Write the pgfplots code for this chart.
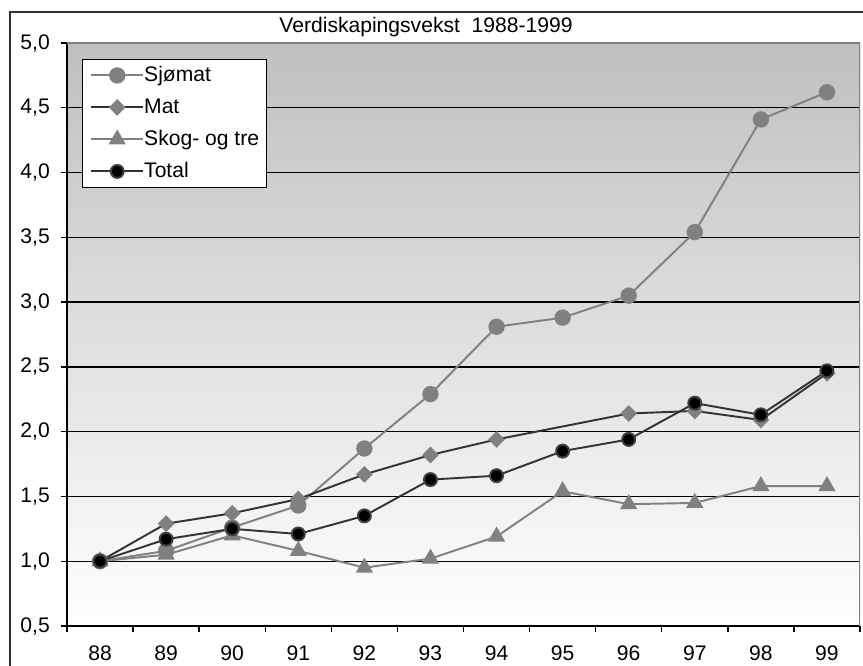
\documentclass[border=0pt]{standalone}
\usepackage{fontspec}
\setmainfont{Liberation Sans}
\usepackage{pgfplots}
\pgfplotsset{compat=1.18}
\definecolor{lgray}{HTML}{808080}
\definecolor{dgray}{HTML}{333333}

\begin{document}
\begin{tikzpicture}[font=\fontsize{12}{14}\selectfont]
\useasboundingbox (0,0) rectangle (17.26cm,13.32cm);
% chart frame
\draw[black!80,line width=0.035cm] (0.2cm,-0.2cm) -- (0.2cm,13.08cm) -- (17.5cm,13.08cm);
\node at (8.52cm,12.78cm) {Verdiskapingsvekst\ \ 1988-1999};
\begin{axis}[
  at={(1.34cm,0.8cm)}, anchor=south west,
  scale only axis, width=15.86cm, height=11.66cm,
  xmin=-0.5, xmax=11.5, ymin=0.5, ymax=5,
  axis x line*=bottom, axis y line*=left,
  axis line style={black,line width=0.8pt,-},
  axis background/.style={top color=black!25,bottom color=white},
  xtick={0,...,11},
  xticklabels={88,89,90,91,92,93,94,95,96,97,98,99},
  minor xtick={-0.5,0.5,...,11.5},
  ytick={0.5,1,...,5},
  tick align=outside,
  major tick length=0.12cm, minor tick length=0.12cm,
  major x tick style={draw=none},
  tick style={black,line width=0.8pt},
  ymajorgrids, grid style={black,line width=0.8pt},
  yticklabel style={xshift=-0.1cm},
  xticklabel style={yshift=-0.15cm},
  /pgf/number format/.cd, use comma, fixed, fixed zerofill, precision=1,
  assume math mode=true,
  /pgfplots/.cd,
  legend style={at={(0.019,0.973)},anchor=north west,draw=black,fill=white,
    line width=0.8pt,inner xsep=0.15cm,inner ysep=0.1cm,row sep=0.2cm,
    nodes={inner sep=0pt,text height=0.34cm,text depth=0.1cm,font=\fontsize{12}{14}\selectfont}},
  legend cell align=left,
  legend image code/.code={\draw[mark repeat=2,mark phase=2] plot coordinates {(0cm,0cm) (0.52cm,0cm) (1.04cm,0cm)};},
]
\addplot[lgray,line width=1.1pt,mark=*,mark size=4.1pt,mark options={fill=lgray,draw=lgray}]
  coordinates{(0,1.00)(1,1.08)(2,1.26)(3,1.43)(4,1.87)(5,2.29)(6,2.81)(7,2.88)(8,3.05)(9,3.54)(10,4.41)(11,4.62)};
\addlegendentry{Sjømat}
\addplot[dgray,line width=1.1pt,mark=square*,mark size=2.8pt,mark options={rotate=45,fill=lgray,draw=lgray}]
  coordinates{(0,1.00)(1,1.29)(2,1.37)(3,1.48)(4,1.67)(5,1.82)(6,1.94)(8,2.14)(9,2.16)(10,2.09)(11,2.45)};
\addlegendentry{Mat}
\addplot[lgray,line width=1.1pt,mark=triangle*,mark size=4.6pt,mark options={fill=lgray,draw=lgray}]
  coordinates{(0,1.00)(1,1.05)(2,1.20)(3,1.08)(4,0.95)(5,1.02)(6,1.19)(7,1.54)(8,1.44)(9,1.45)(10,1.58)(11,1.58)};
\addlegendentry{Skog- og tre}
\addplot[dgray,line width=1.1pt,mark=*,mark size=3.7pt,mark options={fill=black,draw=black!75,line width=1.1pt}]
  coordinates{(0,1.00)(1,1.17)(2,1.25)(3,1.21)(4,1.35)(5,1.63)(6,1.66)(7,1.85)(8,1.94)(9,2.22)(10,2.13)(11,2.47)};
\addlegendentry{Total}
\draw[lgray,line width=0.8pt] (rel axis cs:0,1) -- (rel axis cs:1,1) -- (rel axis cs:1,0);
\end{axis}
\end{tikzpicture}
\end{document}
